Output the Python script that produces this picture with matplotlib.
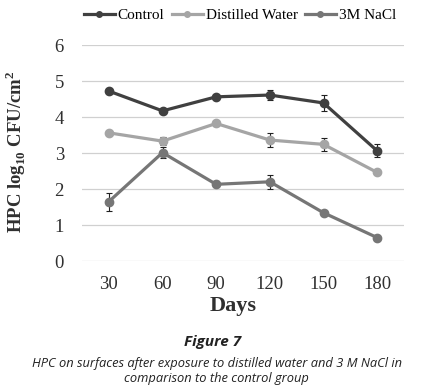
import numpy as np
import matplotlib
matplotlib.use("Agg")
import matplotlib.pyplot as plt
from matplotlib.lines import Line2D

plt.rcParams["mathtext.fontset"] = "custom"
plt.rcParams["mathtext.rm"] = "Liberation Serif"
plt.rcParams["mathtext.bf"] = "Liberation Serif:bold"

days = ["30", "60", "90", "120", "150", "180"]
control = [4.72, 4.17, 4.56, 4.61, 4.39, 3.06]
control_err = [0.03, 0.05, 0.06, 0.14, 0.23, 0.18]
distilled = [3.56, 3.33, 3.82, 3.36, 3.24, 2.46]
distilled_err = [0.05, 0.12, 0.06, 0.2, 0.18, 0.05]
nacl = [1.65, 3.01, 2.13, 2.2, 1.34, 0.65]
nacl_err = [0.25, 0.15, 0.08, 0.2, 0.05, 0.05]

series = [
    ("Control", control, control_err, "#404040"),
    ("Distilled Water", distilled, distilled_err, "#a5a5a5"),
    ("3M NaCl", nacl, nacl_err, "#767676"),
]

fig = plt.figure(figsize=(4.25, 3.92), dpi=100)
ax = fig.add_axes([82 / 425, 1 - 261 / 392, 322 / 425, 216 / 392])

x = np.arange(len(days))
handles = []
for name, vals, err, col in series:
    ax.errorbar(x, vals, yerr=err, color=col, lw=2.3, marker="o", ms=6,
                ecolor="#202020", elinewidth=0.8, capsize=2.5, capthick=0.8,
                zorder=3)
    handles.append(Line2D([], [], color=col, lw=2.3, marker="o", ms=4, label=name))

ax.set_xlim(-0.5, len(days) - 0.5)
ax.set_ylim(0, 6)
ax.set_yticks(range(0, 7))
ax.set_xticks(x)
ax.set_xticklabels(days)
ax.grid(axis="y", color="#d0d0d0", lw=0.9)
ax.set_axisbelow(True)
for s in ax.spines.values():
    s.set_visible(False)
ax.tick_params(length=0, labelsize=13.5, labelcolor="#303030")
ax.tick_params(axis="y", pad=13)
ax.tick_params(axis="x", pad=11)
for lab in ax.get_xticklabels() + ax.get_yticklabels():
    lab.set_family("Liberation Serif")

ax.set_ylabel(r"HPC log$_{\mathbf{10}}$ CFU/cm$^{\mathbf{2}}$", fontsize=13.5,
              fontweight="bold", family="Liberation Serif", color="#303030")
ax.yaxis.set_label_coords(-54 / 322, (261 - 152) / 216)
ax.set_xlabel("Days", fontsize=16, fontweight="bold", family="Liberation Serif",
              color="#303030")
ax.xaxis.set_label_coords((233 - 82) / 322, -(306 - 261) / 216)
ax.xaxis.label.set_va("center")

ax.legend(handles=handles, loc="center", bbox_to_anchor=(240 / 425, 1 - 15 / 392),
          bbox_transform=fig.transFigure, ncol=3, frameon=False,
          handlelength=2.0, columnspacing=0.5, handletextpad=0.2,
          prop={"family": "Liberation Serif", "size": 11})

fig.text(0.5, 1 - 342 / 392, "Figure 7", ha="center", va="center", fontsize=11,
         fontweight="bold", style="italic", family="Open Sans", color="#222222")
fig.text(0.51, 1 - 371 / 392,
         "HPC on surfaces after exposure to distilled water and 3 M NaCl in\ncomparison to the control group",
         ha="center", va="center", fontsize=9.3, style="italic", family="Open Sans",
         color="#222222", linespacing=1.15)

fig.savefig("out.png", dpi=100)
